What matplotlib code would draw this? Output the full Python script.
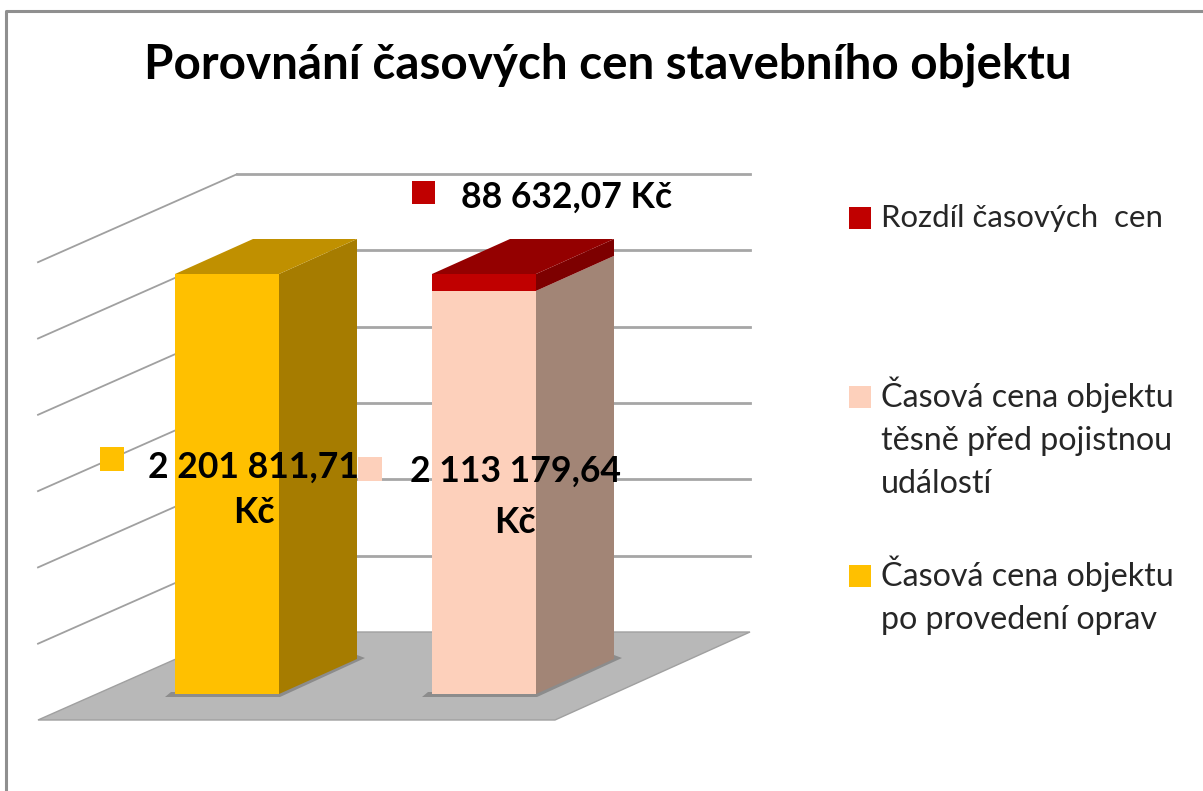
import matplotlib
matplotlib.use("Agg")
import matplotlib.pyplot as plt
from matplotlib.patches import Polygon, Rectangle

title = "Porovnání časových cen stavebního objektu"
base_values = [2201811.71, 2113179.64]
diff_values = [0, 88632.07]
grid_values = [0, 400000, 800000, 1200000, 1600000, 2000000, 2400000]
base_labels = ["2 201 811,71\nKč", "2 113 179,64\nKč"]
diff_label = "88 632,07 Kč"
legend_labels = ["Rozdíl časových  cen",
                 "Časová cena objektu\ntěsně před pojistnou\nudálostí",
                 "Časová cena objektu\npo provedení oprav"]

PX = 420 / 2201811.71  # pixels per Kč
FONT = ["Lato", "DejaVu Sans"]


def vy(value, base):
    return base - value * PX


def box(ax, x0, width, v0, v1, front, side, top):
    dx, dy = 78, -35
    y0, y1 = vy(v0, 694), vy(v1, 694)
    ax.add_patch(Rectangle((x0, y1), width, y0 - y1, fc=front, ec="none", zorder=3))
    ax.add_patch(Polygon([(x0 + width, y0), (x0 + width + dx, y0 + dy),
                          (x0 + width + dx, y1 + dy), (x0 + width, y1)], fc=side, ec="none", zorder=3))
    if top:
        ax.add_patch(Polygon([(x0, y1), (x0 + dx, y1 + dy), (x0 + width + dx, y1 + dy),
                              (x0 + width, y1)], fc=top, ec="none", zorder=3))


def shadow(ax, x0, width):
    ax.add_patch(Polygon([(x0 - 10, 697), (x0 + width + 1, 697), (x0 + width + 86, 658),
                          (x0 + width + 78, 655), (x0 + width, 692), (x0 - 4, 692)],
                         fc="#8c8c8c", ec="none", zorder=2))


fig = plt.figure(figsize=(12.03, 7.91), dpi=100)
ax = fig.add_axes([0, 0, 1, 1])
ax.set_xlim(0, 1203)
ax.set_ylim(791, 0)
ax.axis("off")

# frame
ax.plot([5.5, 5.5, 1203], [791, 11, 11], color="#8f8f8f", lw=2.2)

# floor and walls
ax.add_patch(Polygon([(38, 720), (555, 720), (750, 632), (237, 632)], fc="#b8b8b8", ec="#a0a0a0",
                     lw=1, zorder=1))
for v in grid_values[1:]:
    back = vy(v, 632)
    left = vy(v, 720)
    ax.plot([38, 237], [left, back], color="#a0a0a0", lw=1.3, zorder=1)
    ax.plot([237, 750], [back, back], color="#a6a6a6", lw=2, zorder=1)

# bars
shadow(ax, 175, 104)
shadow(ax, 432, 104)
box(ax, 175, 104, 0, base_values[0], "#ffc000", "#a67c00", "#c09000")
box(ax, 432, 104, 0, base_values[1], "#fdd0bb", "#a28576", None)
box(ax, 432, 104, base_values[1], base_values[1] + diff_values[1], "#c00000", "#7d0000", "#940000")

# data labels
ax.add_patch(Rectangle((100, 447), 24, 24, fc="#ffc000", ec="none", zorder=4))
ax.add_patch(Rectangle((358, 457), 24, 24, fc="#fdd0bb", ec="none", zorder=4))
ax.add_patch(Rectangle((412, 181), 23, 23, fc="#c00000", ec="none", zorder=4))
ax.text(254, 490, base_labels[0], ha="center", va="center", fontsize=25.6, fontweight="bold",
        family=FONT, linespacing=1.48, zorder=5)
ax.text(515, 497, base_labels[1], ha="center", va="center", fontsize=25.6, fontweight="bold",
        family=FONT, linespacing=1.68, zorder=5)
ax.text(566.5, 197, diff_label, ha="center", va="center", fontsize=25.6, fontweight="bold",
        family=FONT, zorder=5)

# legend
ax.add_patch(Rectangle((849, 207), 22, 22, fc="#c00000", ec="none"))
ax.add_patch(Rectangle((849, 386), 22, 22, fc="#fdd0bb", ec="none"))
ax.add_patch(Rectangle((849, 565), 22, 22, fc="#ffc000", ec="none"))
ax.text(881, 218, legend_labels[0], va="center", fontsize=22.4, family=FONT, color="#262626")
ax.text(881, 438, legend_labels[1], va="center", fontsize=23.2, family=FONT, color="#262626", linespacing=1.55)
ax.text(881, 595, legend_labels[2], va="center", fontsize=23.2, family=FONT, color="#262626", linespacing=1.55)

ax.text(608, 65, title, ha="center", va="center", fontsize=34.2, fontweight="bold", family=FONT)

fig.savefig("out.png", dpi=100)
